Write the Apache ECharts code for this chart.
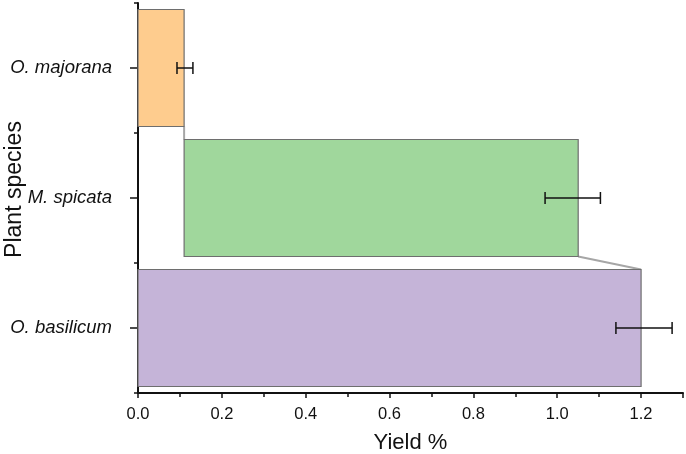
<!DOCTYPE html>
<html>
<head>
<meta charset="utf-8">
<script src="https://cdn.jsdelivr.net/npm/echarts@6/dist/echarts.min.js"></script>
<style>
html,body{margin:0;padding:0;background:#fff}
#main{width:686px;height:454px}
</style>
</head>
<body>
<div id="main"></div>
<script>
// bottom to top, like the picture
const species = ['O. basilicum', 'M. spicata', 'O. majorana']
const barStart = [0, 0.11, 0]
const barEnd = [1.20, 1.05, 0.11]
const errMean = [1.207, 1.037, 0.112]
const errHalf = [0.067, 0.066, 0.019]
const barColors = ['#c5b4d8', '#a0d79c', '#fecc8e']
const xTicks = [0, 0.2, 0.4, 0.6, 0.8, 1.0, 1.2]

// waterfall connectors: [upper index, value at upper, lower index, value at lower]
const connectors = [
    [2, barEnd[2], 1, barStart[1]],
    [1, barEnd[1], 0, barEnd[0]]
]

const chartDom = document.getElementById('main')
let myChart = echarts.init(chartDom)
let option;

const font = 'Liberation Sans, Arial, sans-serif'
const bandRatio = 0.9

option = {
    animation: false,
    grid: { left: 138, right: 3, top: 3, bottom: 61, outerBoundsMode: 'none' },
    xAxis: {
        type: 'value',
        min: 0,
        max: 1.3,
        interval: 0.2,
        name: 'Yield %',
        nameLocation: 'middle',
        nameGap: 39,
        nameMoveOverlap: false,
        nameTextStyle: { fontFamily: font, fontSize: 22, color: '#111' },
        axisLine: { show: true, lineStyle: { color: '#111', width: 2 } },
        axisTick: { show: true, inside: false, length: 5, lineStyle: { color: '#111', width: 1.5 } },
        minorTick: { show: true, splitNumber: 2, length: 4, lineStyle: { color: '#111', width: 1.5 } },
        splitLine: { show: false },
        axisLabel: {
            fontFamily: font, fontSize: 16.5, color: '#111', margin: 13,
            formatter: v => xTicks.some(t => Math.abs(t - v) < 1e-6) ? v.toFixed(1) : ''
        }
    },
    yAxis: [{
        type: 'category',
        data: species,
        name: 'Plant species',
        nameLocation: 'middle',
        nameGap: 112,
        nameRotate: 90,
        nameMoveOverlap: false,
        nameTextStyle: { fontFamily: font, fontSize: 23, color: '#111', padding: [0, 0, 0, 17] },
        axisLine: { show: true, lineStyle: { color: '#111', width: 2 } },
        axisTick: { show: true, alignWithLabel: true, length: 8, lineStyle: { color: '#111', width: 1.5 } },
        axisLabel: { fontFamily: font, fontSize: 18.5, fontStyle: 'italic', color: '#111', margin: 26 }
    }, {
        type: 'value',
        position: 'left',
        min: 0,
        max: 3,
        interval: 1,
        axisLine: { show: false },
        axisTick: { show: true, length: 4, lineStyle: { color: '#111', width: 1.5 } },
        axisLabel: { show: false },
        splitLine: { show: false }
    }],
    series: [{
        type: 'custom',
        name: 'connectors',
        z: 1,
        data: connectors,
        renderItem: function (params, api) {
            const h = api.size([0, 1])[1] * bandRatio / 2
            const p1 = api.coord([api.value(1), api.value(0)])
            const p2 = api.coord([api.value(3), api.value(2)])
            return {
                type: 'line',
                shape: { x1: p1[0], y1: p1[1] + h, x2: p2[0], y2: p2[1] - h },
                style: { stroke: '#a6a6a6', lineWidth: 2 }
            }
        }
    }, {
        type: 'custom',
        name: 'Yield',
        z: 2,
        data: species.map((s, i) => [barStart[i], barEnd[i], i]),
        encode: { x: [0, 1], y: 2 },
        renderItem: function (params, api) {
            const i = api.value(2)
            const a = api.coord([api.value(0), i])
            const b = api.coord([api.value(1), i])
            const h = api.size([0, 1])[1] * bandRatio
            return {
                type: 'rect',
                shape: { x: a[0], y: a[1] - h / 2, width: b[0] - a[0], height: h },
                style: { fill: barColors[i], stroke: '#6e6e6e', lineWidth: 1.2 }
            }
        }
    }, {
        type: 'custom',
        name: 'error',
        z: 3,
        data: species.map((s, i) => [errMean[i] - errHalf[i], errMean[i] + errHalf[i], i]),
        encode: { x: [0, 1], y: 2 },
        renderItem: function (params, api) {
            const i = api.value(2)
            const a = api.coord([api.value(0), i])
            const b = api.coord([api.value(1), i])
            const cap = 6
            const st = { stroke: '#111', lineWidth: 1.5 }
            return {
                type: 'group',
                children: [
                    { type: 'line', shape: { x1: a[0], y1: a[1], x2: b[0], y2: b[1] }, style: st },
                    { type: 'line', shape: { x1: a[0], y1: a[1] - cap, x2: a[0], y2: a[1] + cap }, style: st },
                    { type: 'line', shape: { x1: b[0], y1: b[1] - cap, x2: b[0], y2: b[1] + cap }, style: st }
                ]
            }
        }
    }]
}

option && myChart.setOption(option);
</script>
</body>
</html>
